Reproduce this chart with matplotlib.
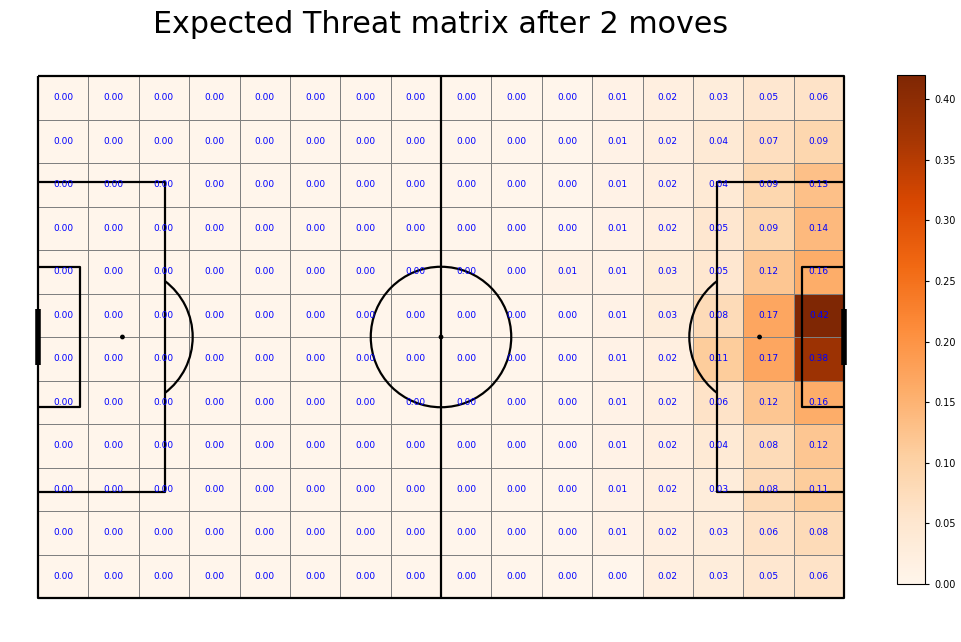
import matplotlib
matplotlib.use("Agg")
import matplotlib.pyplot as plt
import numpy as np
from matplotlib.patches import Arc, Circle

# Expected threat after 2 moves, 12 rows (top -> bottom) x 16 columns (left -> right)
row00 = [0.00] * 11 + [0.01, 0.02, 0.03, 0.05, 0.06]
row01 = [0.00] * 11 + [0.01, 0.02, 0.04, 0.07, 0.09]
row02 = [0.00] * 11 + [0.01, 0.02, 0.04, 0.09, 0.13]
row03 = [0.00] * 11 + [0.01, 0.02, 0.05, 0.09, 0.14]
row04 = [0.00] * 10 + [0.01, 0.01, 0.03, 0.05, 0.12, 0.16]
row05 = [0.00] * 11 + [0.01, 0.03, 0.08, 0.17, 0.42]
row06 = [0.00] * 11 + [0.01, 0.02, 0.11, 0.17, 0.38]
row07 = [0.00] * 11 + [0.01, 0.02, 0.06, 0.12, 0.16]
row08 = [0.00] * 11 + [0.01, 0.02, 0.04, 0.08, 0.12]
row09 = [0.00] * 11 + [0.01, 0.02, 0.03, 0.08, 0.11]
row10 = [0.00] * 11 + [0.01, 0.02, 0.03, 0.06, 0.08]
row11 = [0.00] * 11 + [0.00, 0.02, 0.03, 0.05, 0.06]

xT = np.array([row00, row01, row02, row03, row04, row05,
               row06, row07, row08, row09, row10, row11])

pitch_length = 105
pitch_width = 68
n_rows, n_cols = xT.shape

fig = plt.figure(figsize=(9.61, 6.42), dpi=100)
ax = fig.add_axes([38 / 961, 1 - 598 / 642, 806 / 961, 522 / 642])
cax = fig.add_axes([897 / 961, 1 - 584 / 642, 28 / 961, 509 / 642])

xedges = np.linspace(0, pitch_length, n_cols + 1)
yedges = np.linspace(0, pitch_width, n_rows + 1)
mesh = ax.pcolormesh(xedges, yedges, xT, cmap="Oranges", vmin=0, vmax=xT.max(),
                     edgecolors="gray", linewidth=0.6)

dx = pitch_length / n_cols
dy = pitch_width / n_rows
for i in range(n_rows):
    for j in range(n_cols):
        ax.text((j + 0.5) * dx, (i + 0.5) * dy, "%.2f" % xT[i, j],
                ha="center", va="center", color="blue", fontsize=6.5)

# pitch markings
lc = "black"
lw = 1.6
def line(xs, ys, w=lw):
    ax.plot(xs, ys, color=lc, linewidth=w, clip_on=False, solid_capstyle="butt")

line([0, 0, pitch_length, pitch_length, 0], [0, pitch_width, pitch_width, 0, 0])
line([pitch_length / 2, pitch_length / 2], [0, pitch_width])
mid = pitch_width / 2
# penalty areas
line([0, 16.5, 16.5, 0], [mid - 20.16, mid - 20.16, mid + 20.16, mid + 20.16])
line([pitch_length, pitch_length - 16.5, pitch_length - 16.5, pitch_length],
     [mid - 20.16, mid - 20.16, mid + 20.16, mid + 20.16])
# six yard boxes
line([0, 5.5, 5.5, 0], [mid - 9.16, mid - 9.16, mid + 9.16, mid + 9.16])
line([pitch_length, pitch_length - 5.5, pitch_length - 5.5, pitch_length],
     [mid - 9.16, mid - 9.16, mid + 9.16, mid + 9.16])
# goals
line([0, 0], [mid - 3.66, mid + 3.66], w=4)
line([pitch_length, pitch_length], [mid - 3.66, mid + 3.66], w=4)

ax.add_patch(Circle((pitch_length / 2, mid), 9.15, fill=False, color=lc, linewidth=lw))
for x in (11, pitch_length - 11, pitch_length / 2):
    ax.add_patch(Circle((x, mid), 0.22, color=lc))
ax.add_patch(Arc((11, mid), 18.3, 18.3, theta1=307, theta2=53, color=lc, linewidth=lw))
ax.add_patch(Arc((pitch_length - 11, mid), 18.3, 18.3, theta1=127, theta2=233,
                 color=lc, linewidth=lw))

ax.set_xlim(0, pitch_length)
ax.set_ylim(pitch_width, 0)
ax.set_aspect("auto")
ax.axis("off")

cb = fig.colorbar(mesh, cax=cax, ticks=np.arange(0, 0.41, 0.05), format="%.2f")
cb.ax.tick_params(labelsize=7, length=3)
cb.outline.set_linewidth(0.8)

fig.suptitle("Expected Threat matrix after 2 moves", fontsize=21.7, x=441 / 961, y=0.985)

fig.savefig("out.png", dpi=100)
